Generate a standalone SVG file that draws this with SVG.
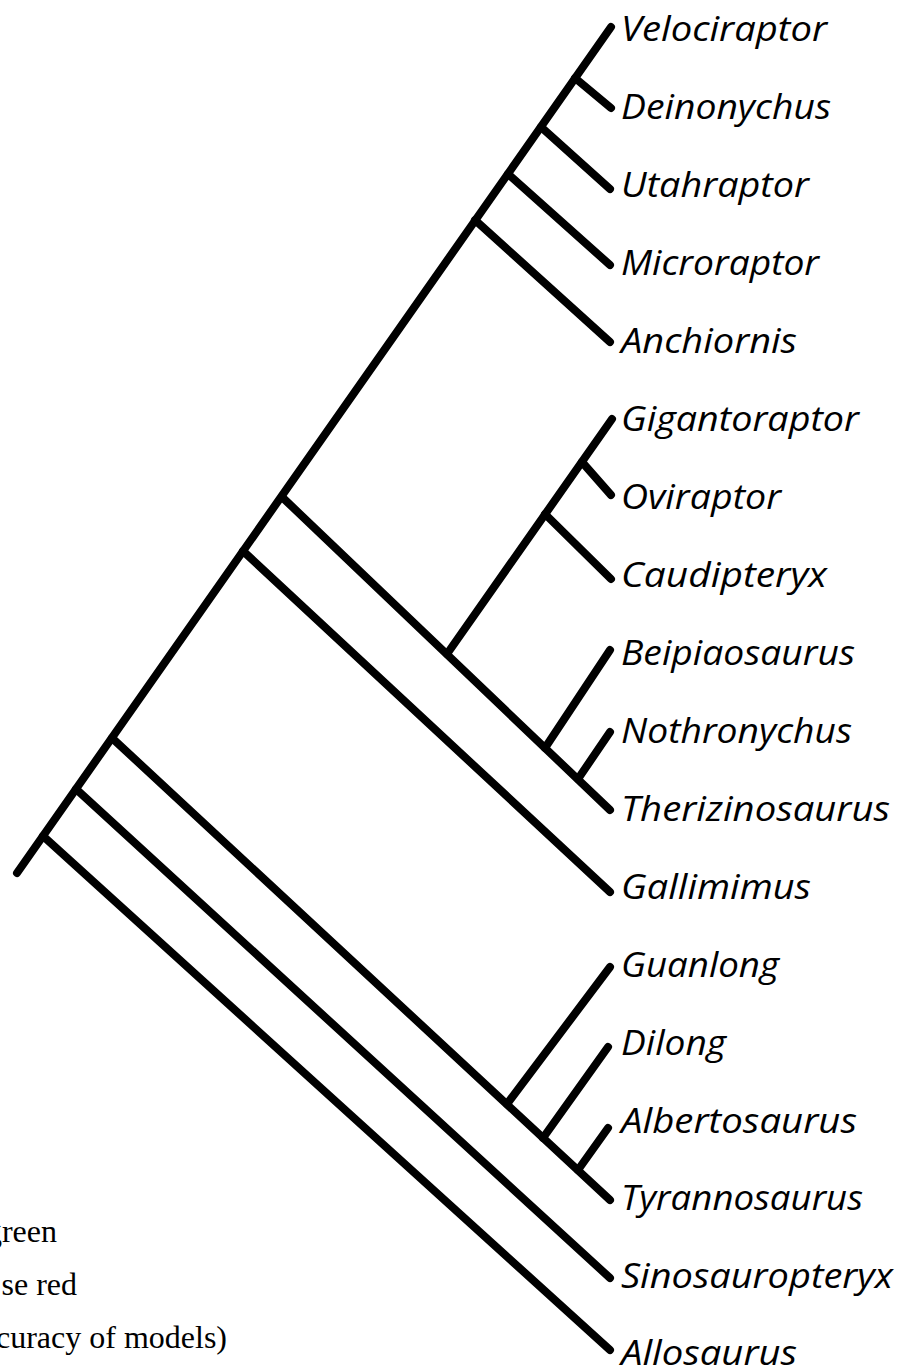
<svg xmlns="http://www.w3.org/2000/svg" width="911" height="1370" viewBox="0 0 911 1370">
<style>
.br{stroke:#000;stroke-width:8;stroke-linecap:round;fill:none}
.tx{font-family:"Open Sans","Noto Sans","DejaVu Sans",sans-serif;font-style:italic;font-size:35px;fill:#000}
.note{font-family:"Liberation Serif","Times New Roman",serif;font-size:32px;fill:#000}
</style>
<rect width="911" height="1370" fill="#fff"/>
<g id="connectors">
<line class="br" x1="17" y1="873" x2="611" y2="27"/>
<line class="br" x1="575" y1="78" x2="611" y2="108"/>
<line class="br" x1="541" y1="127" x2="610" y2="189"/>
<line class="br" x1="508" y1="174" x2="610" y2="265"/>
<line class="br" x1="475" y1="220" x2="610" y2="342"/>
<line class="br" x1="282" y1="497" x2="610" y2="810"/>
<line class="br" x1="447" y1="654" x2="612" y2="419"/>
<line class="br" x1="582" y1="462" x2="611" y2="495"/>
<line class="br" x1="545" y1="514" x2="611" y2="579"/>
<line class="br" x1="545" y1="748" x2="610" y2="650"/>
<line class="br" x1="578" y1="779" x2="610" y2="732"/>
<line class="br" x1="243" y1="551" x2="610" y2="892"/>
<line class="br" x1="112" y1="738" x2="610" y2="1200"/>
<line class="br" x1="507" y1="1104" x2="610" y2="967"/>
<line class="br" x1="543" y1="1138" x2="608" y2="1047"/>
<line class="br" x1="578" y1="1170" x2="608" y2="1128"/>
<line class="br" x1="76" y1="789" x2="610" y2="1278"/>
<line class="br" x1="43" y1="836" x2="610" y2="1350"/>
</g>
<g id="velociraptor"><text class="tx" x="621" y="41" textLength="206" lengthAdjust="spacingAndGlyphs">Velociraptor</text></g>
<g id="deinonychus"><text class="tx" x="621" y="119" textLength="210" lengthAdjust="spacingAndGlyphs">Deinonychus</text></g>
<g id="utahraptor"><text class="tx" x="621" y="197" textLength="188" lengthAdjust="spacingAndGlyphs">Utahraptor</text></g>
<g id="microraptor"><text class="tx" x="621" y="275" textLength="198" lengthAdjust="spacingAndGlyphs">Microraptor</text></g>
<g id="anchiornis"><text class="tx" x="621" y="353" textLength="176" lengthAdjust="spacingAndGlyphs">Anchiornis</text></g>
<g id="gigantoraptor"><text class="tx" x="621" y="431" textLength="238" lengthAdjust="spacingAndGlyphs">Gigantoraptor</text></g>
<g id="oviraptor"><text class="tx" x="621" y="509" textLength="160" lengthAdjust="spacingAndGlyphs">Oviraptor</text></g>
<g id="caudipteryx"><text class="tx" x="621" y="587" textLength="206" lengthAdjust="spacingAndGlyphs">Caudipteryx</text></g>
<g id="beipiaosaurus"><text class="tx" x="621" y="665" textLength="234" lengthAdjust="spacingAndGlyphs">Beipiaosaurus</text></g>
<g id="nothronychus"><text class="tx" x="621" y="743" textLength="231" lengthAdjust="spacingAndGlyphs">Nothronychus</text></g>
<g id="therizinosaurus"><text class="tx" x="621" y="821" textLength="269" lengthAdjust="spacingAndGlyphs">Therizinosaurus</text></g>
<g id="gallimimus"><text class="tx" x="621" y="899" textLength="190" lengthAdjust="spacingAndGlyphs">Gallimimus</text></g>
<g id="guanlong"><text class="tx" x="621" y="977" textLength="158" lengthAdjust="spacingAndGlyphs">Guanlong</text></g>
<g id="dilong"><text class="tx" x="621" y="1055" textLength="105" lengthAdjust="spacingAndGlyphs">Dilong</text></g>
<g id="albertosaurus"><text class="tx" x="621" y="1133" textLength="236" lengthAdjust="spacingAndGlyphs">Albertosaurus</text></g>
<g id="tyrannosaurus"><text class="tx" x="621" y="1210" textLength="242" lengthAdjust="spacingAndGlyphs">Tyrannosaurus</text></g>
<g id="sinosauropteryx"><text class="tx" x="621" y="1288" textLength="272" lengthAdjust="spacingAndGlyphs">Sinosauropteryx</text></g>
<g id="allosaurus"><text class="tx" x="621" y="1365" textLength="176" lengthAdjust="spacingAndGlyphs">Allosaurus</text></g>
<g id="key">
<text class="note" x="57" y="1242" text-anchor="end">green</text>
<text class="note" x="77" y="1295" text-anchor="end">se red</text>
<text class="note" x="227" y="1348" text-anchor="end">curacy of models)</text>
</g>
</svg>
